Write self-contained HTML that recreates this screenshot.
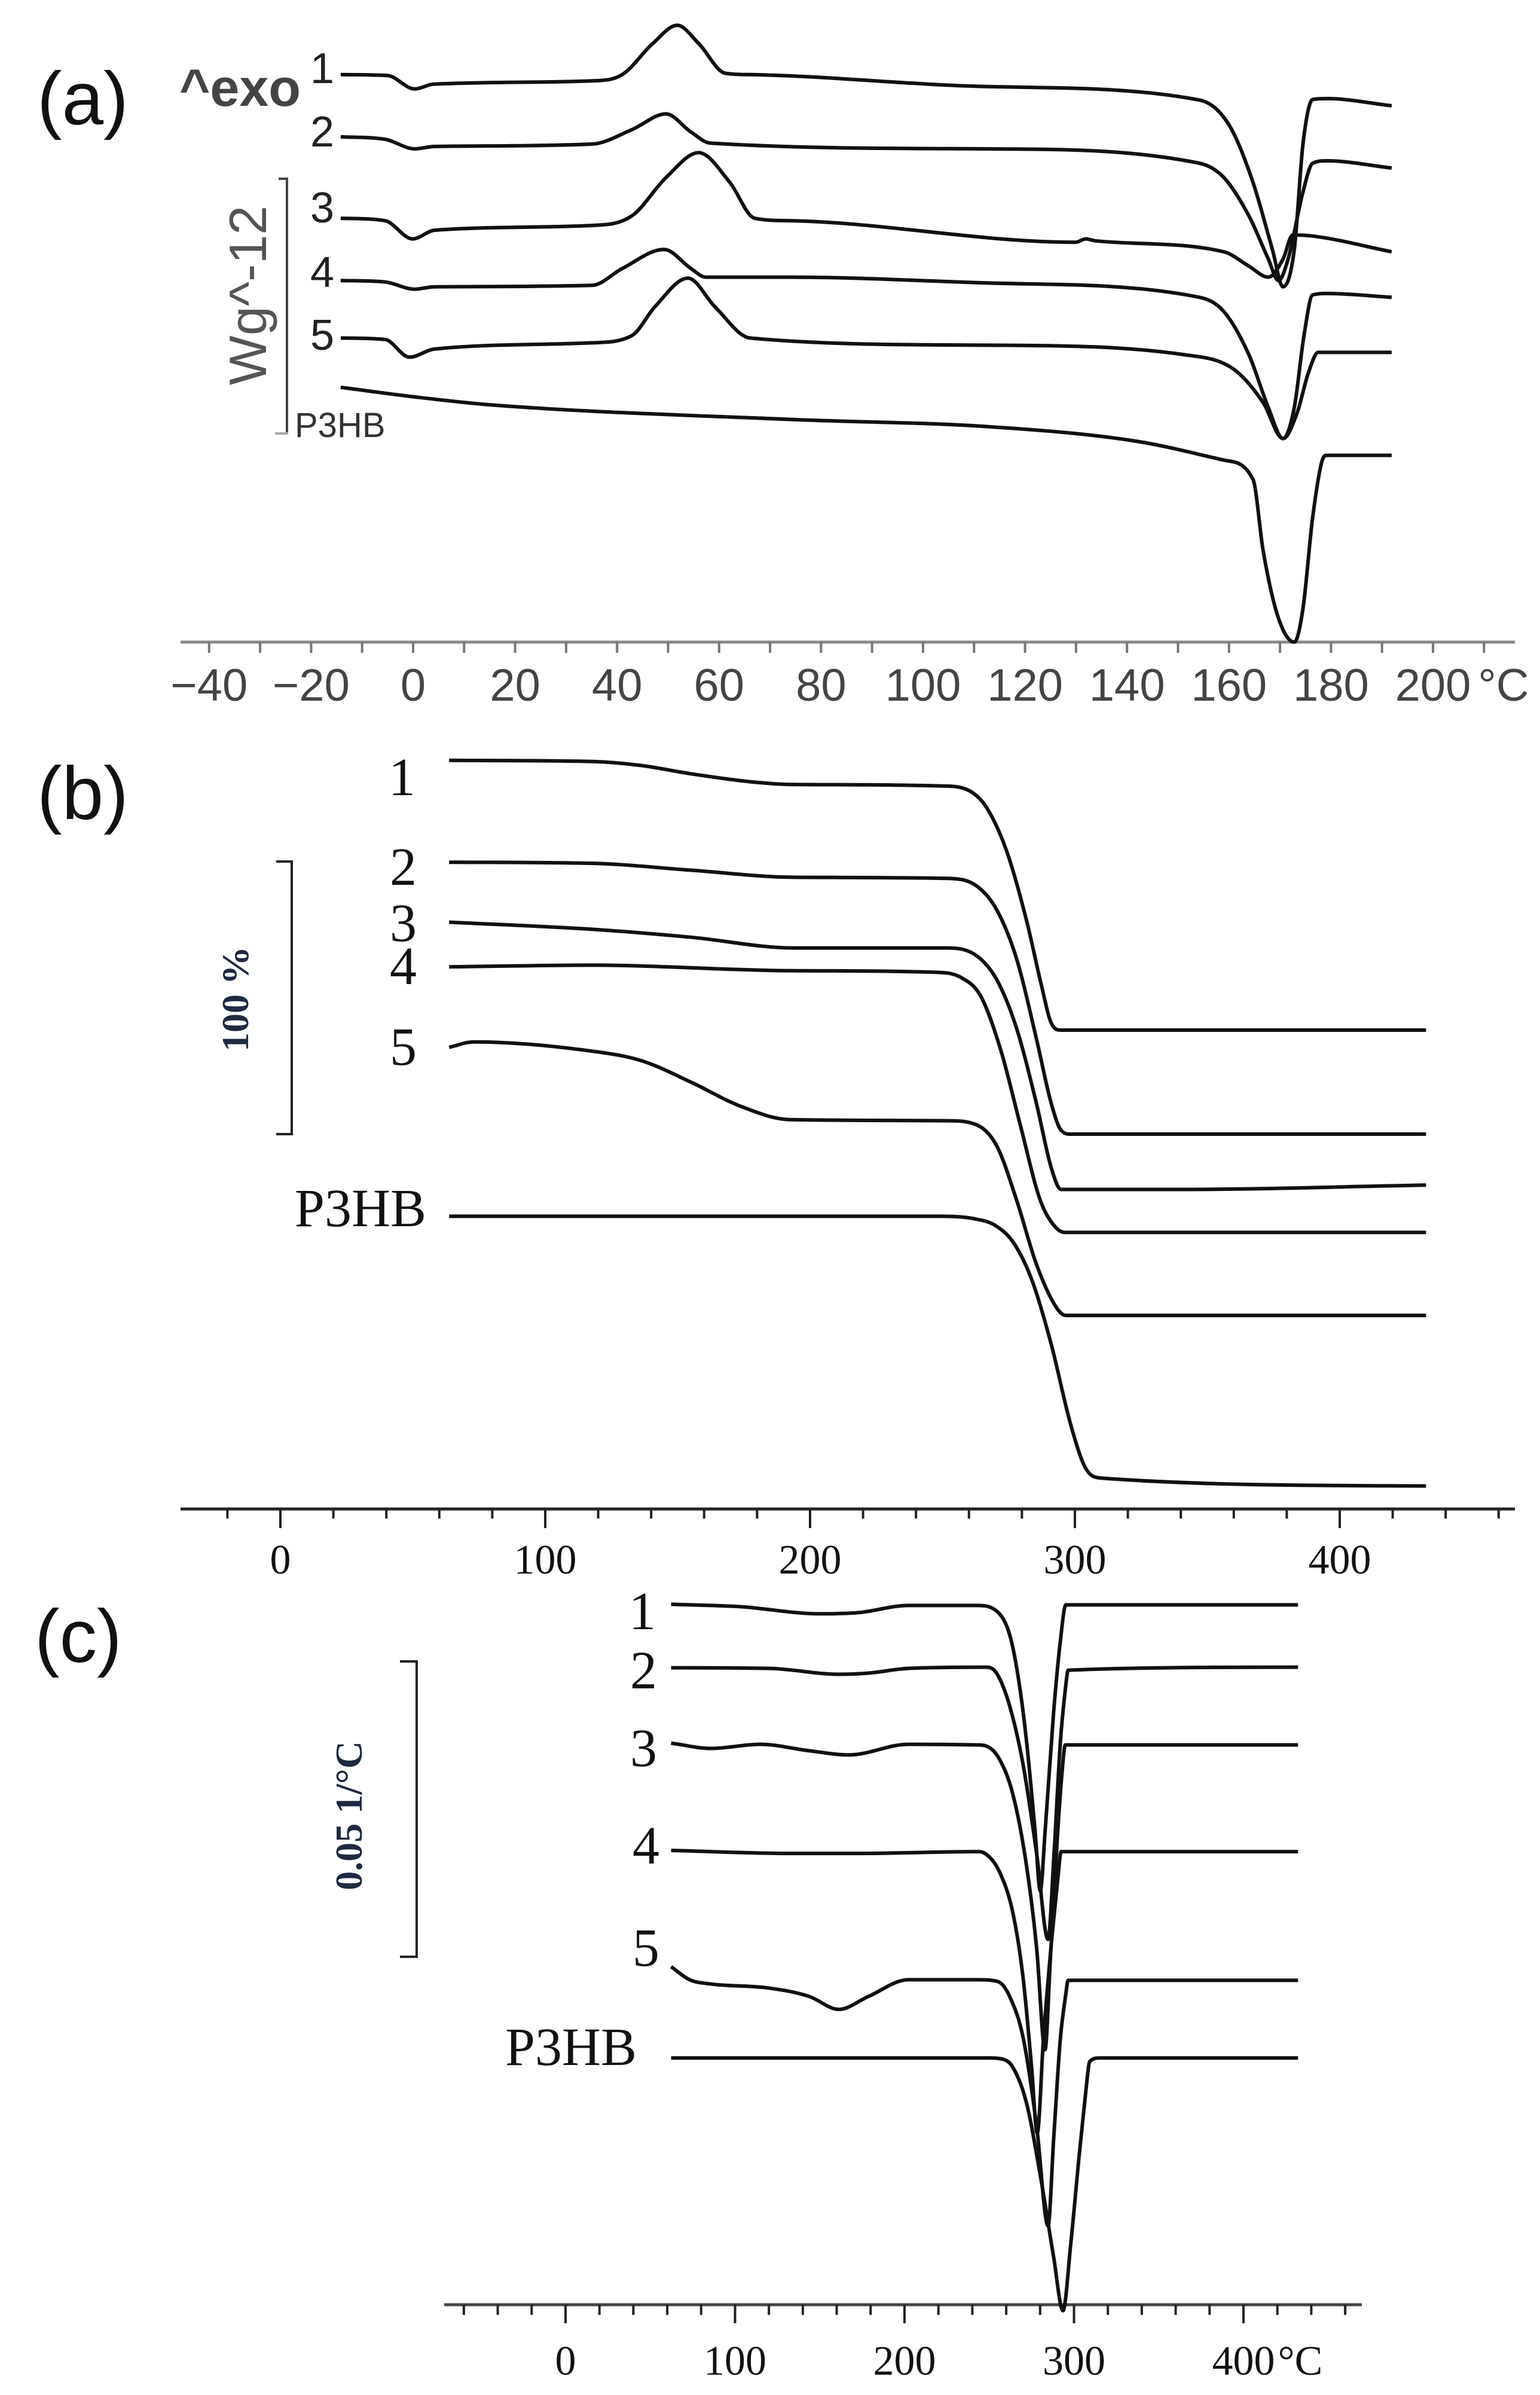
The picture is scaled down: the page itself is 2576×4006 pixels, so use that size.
<!DOCTYPE html>
<html><head><meta charset="utf-8">
<style>
html,body{margin:0;padding:0;background:#fff;}
svg{display:block;}
.sans{font-family:"Liberation Sans",sans-serif;}
.serif{font-family:"Liberation Serif",serif;}
</style></head>
<body>
<svg id="fig" xmlns="http://www.w3.org/2000/svg" width="2576" height="4006" viewBox="0 0 2576 4006">
  <rect x="0" y="0" width="2576" height="4006" fill="#fff"/>
  <g>
    <text class="sans" x="62" y="208" font-size="125" fill="#111">(a)</text>
    <text class="sans" x="300" y="177" font-size="88" font-weight="bold" fill="#444">^exo</text>
    <line x1="480" y1="298" x2="480" y2="726" stroke="#444" stroke-width="4"/>
    <line x1="466" y1="299" x2="482" y2="299" stroke="#444" stroke-width="4"/>
    <line x1="460" y1="725" x2="482" y2="725" stroke="#aaa" stroke-width="4"/>
    <text class="sans" transform="translate(445,494) rotate(-90)" text-anchor="middle" font-size="88" fill="#555">Wg^-12</text>
    <text class="sans" x="519" y="139" font-size="72" fill="#222">1</text>
    <text class="sans" x="519" y="245" font-size="72" fill="#222">2</text>
    <text class="sans" x="519" y="372" font-size="72" fill="#222">3</text>
    <text class="sans" x="519" y="480" font-size="72" fill="#222">4</text>
    <text class="sans" x="519" y="585" font-size="72" fill="#222">5</text>
    <text class="sans" x="493" y="731" font-size="58" fill="#333">P3HB</text>
    <line x1="302" y1="1074" x2="2534" y2="1074" stroke="#888" stroke-width="5"/>
    <g id="ticksA"></g>
    <g id="curvesA"></g>
  </g>
  <g>
    <text class="sans" x="62" y="1370" font-size="125" fill="#111">(b)</text>
    <line x1="488" y1="1440" x2="488" y2="1898" stroke="#222" stroke-width="4"/>
    <line x1="462" y1="1441" x2="490" y2="1441" stroke="#222" stroke-width="4"/>
    <line x1="462" y1="1897" x2="490" y2="1897" stroke="#222" stroke-width="4"/>
    <text class="serif" transform="translate(415,1671) rotate(-90)" text-anchor="middle" font-size="64" font-weight="bold" fill="#1e2a40">100 %</text>
    <text class="serif" x="650" y="1330" font-size="90" fill="#111">1</text>
    <text class="serif" x="652" y="1480" font-size="90" fill="#111">2</text>
    <text class="serif" x="652" y="1574" font-size="90" fill="#111">3</text>
    <text class="serif" x="652" y="1646" font-size="90" fill="#111">4</text>
    <text class="serif" x="652" y="1781" font-size="90" fill="#111">5</text>
    <text class="serif" x="713" y="2051" text-anchor="end" font-size="90" fill="#111">P3HB</text>
    <line x1="302" y1="2524" x2="2534" y2="2524" stroke="#222" stroke-width="5"/>
    <g id="ticksB"></g>
    <g id="curvesB"></g>
  </g>
  <g>
    <text class="sans" x="58" y="2780" font-size="125" fill="#111">(c)</text>
    <line x1="697" y1="2778" x2="697" y2="3274" stroke="#222" stroke-width="4"/>
    <line x1="669" y1="2779" x2="699" y2="2779" stroke="#222" stroke-width="4"/>
    <line x1="669" y1="3273" x2="699" y2="3273" stroke="#222" stroke-width="4"/>
    <text class="serif" transform="translate(605,3037) rotate(-90)" text-anchor="middle" font-size="64" font-weight="bold" fill="#1e2a40">0.05 1/°C</text>
    <text class="serif" x="1052" y="2725" font-size="90" fill="#111">1</text>
    <text class="serif" x="1054" y="2824" font-size="90" fill="#111">2</text>
    <text class="serif" x="1054" y="2954" font-size="90" fill="#111">3</text>
    <text class="serif" x="1058" y="3117" font-size="90" fill="#111">4</text>
    <text class="serif" x="1058" y="3288" font-size="90" fill="#111">5</text>
    <text class="serif" x="1065" y="3454" text-anchor="end" font-size="90" fill="#111">P3HB</text>
    <line x1="743" y1="3855" x2="2278" y2="3855" stroke="#444" stroke-width="5"/>
    <g id="ticksC"></g>
    <g id="curvesC"></g>
  </g>
</svg>
<script>
const aTicks=[-40,-20,0,20,40,60,80,100,120,140,160,180,200];
const aT1=[-14.2,-5,0.3,4,35.1,41,47,51.8,56,61.2,66,112.5,154.2,160,164.7,168.5,170.6,172.8,174.5,176.4,179.2,191.9];
const aV1=[118.5,118.3,115.5,116.5,117.2,118.5,125,128.8,125,118.8,118.5,116,113.2,108,96,82,74.2,82,104,113.3,113.5,112];
const aT2=[-14.2,-5.5,0.3,4.2,35.1,42.9,49.6,54.5,58.3,112.5,154.2,159,163.9,167.7,169.7,171.6,174.5,176.4,179.2,191.9];
const aV2=[105.5,105,103,103.5,104,107,110.3,106.5,104.2,103,100,97,89,80,75.5,80,94,100,100.5,99];
const aT3=[-14.2,-5.5,-0.1,4.2,35.1,42.9,49.6,56,62.1,67,73.8,129.9,131.9,133.8,159,163.9,167.7,170.6,172.5,176.4,191.9];
const aV3=[88.5,88,84.2,86,87,89,97,102.2,96,88.5,88,83.5,84.2,83.8,81.5,78.5,76.2,80,85,84.8,81.5];
const aT4=[-14.2,-5.5,0.3,4.2,35.1,41,49.2,54.5,57.4,73.8,112.5,154.2,159,163.9,167.7,170.6,172.8,174.7,176.4,179.2,191.9];
const aV4=[75.5,75.2,73.7,74.2,74.5,78,82,78,76.2,76.2,75,72,69,60,49,42.5,49,64,72.5,72.8,72];
const aT5=[-14.2,-5.5,-0.7,4.2,35.1,42.9,47.4,53.9,59.2,66.1,112.5,151.3,160.9,166.7,170.6,173.4,175.5,177.5,191.9];
const aV5=[63.5,63.2,59.5,61.2,62.5,64,70,76,70,63.5,62,60,57,50,42.5,48,56,60.5,60.5];
const aTP=[-14.2,0.3,15.7,73.8,112.5,141.5,159,164.7,166.7,169.7,172.8,174.5,176.4,178.3,179.2,191.9];
const aVP=[53.2,51.2,49.5,46.5,45,42,38,34,19,5,0,7,26,38,39,39];

const bTicks=[0,100,200,300,400];
const bT1=[63.7,117.7,136.4,155,177.4,192.3,252,261.2,266.9,274.3,281.8,287.4,291.1,294.8,432.6];
const bV1=[273.4,273,271.5,268.5,265.6,264.6,264,261.7,255.8,240.1,214.7,191.1,177.4,174.9,174.9];
const bT2=[63.7,117.7,155,193.9,252,263.1,270.6,278,285.5,291.1,294.8,298.5,432.6];
const bV2=[236.2,235.8,233.3,230.7,230.3,227.4,218.6,200.9,171.6,148,138.3,136.9,136.9];
const bT3=[63.7,117.7,155,193.9,252,263.1,270.6,278,285.5,291.1,294.8,341.3,432.6];
const bV3=[214.3,211.7,208.8,204.9,204.9,201.9,193.1,175.5,148,124.5,116.7,116.7,118.3];
const bT4=[63.7,117.7,192.3,247.6,257,264.5,272,279.4,286.9,292.6,296.3,341.3,432.6];
const bV4=[198,198.6,196.6,196,194.1,187.2,167.6,140.2,112.8,103,101,101,101];
const bT5=[63.7,73,117.7,136.4,155,173.7,192.3,252,263.1,270.6,278,285.5,293,296.6,432.6];
const bV5=[168.6,170.6,167.2,163.7,155.9,147.1,142.2,141.8,140.2,132.4,112.8,89.3,73.6,70.7,70.7];
const bTP=[63.7,250,262,270,277,284,291.1,298.5,304.1,309.7,432.6];
const bVP=[106.9,106.9,106,103.5,97,83,60,30.5,14.8,11.3,8.4];

const cTicks=[0,100,200,300,400];
const cT1=[62.3,103.1,149.8,173.1,202.2,242.8,255,262,267,272,277,280.1,283,288,292,295.2,432.2];
const cV1=[118.1,117.7,116.5,116.7,117.9,117.9,116.8,113,106,95,80,69.8,80,100,112,118,118];
const cT2=[62.3,120,161.3,178.8,202.2,248,254.3,262,270,278,284.7,288,292,295,296.6,432.2];
const cV2=[107.4,107.3,106.3,106.5,107.3,107.5,106.5,101,91,76,61.6,75,95,104,107,107.5];
const cT3=[62.3,85.8,114.9,144,167.3,202.2,242.8,248.3,256,264,272,278,282.9,286,290,293,294.9,432.2];
const cV3=[94.7,93.8,94.5,93.4,92.7,94.5,94.4,94.2,92,86,74,60,43,58,78,90,94.4,94.4];
const cT4=[62.3,132.5,173.1,242.8,248,256,264,270,275,278.3,282,287,290.5,292.4,432.2];
const cV4=[76.6,76.1,76.1,76.4,76,73,66,55,40,28.9,45,62,72,76.4,76.4];
const cT5=[62.3,73.2,85,120,143.6,161.3,178.8,202.2,242.8,255,262,270,278,284.7,288,292,295,296.6,432.2];
const cV5=[57,54.8,54.1,53.4,52,49.8,52,54.8,54.8,54.5,52,45,30,13.3,28,45,52,54.7,54.7];
const cTP=[62.3,250,258,264,272,280,288,293.5,298,303,307,309.3,315,432.2];
const cVP=[41.6,41.6,41.4,40,34,22,8,-1,10,25,36,41,41.6,41.6];

const xA=t=>691+t*8.53, yA=v=>1074-v*8.01;
const xB=t=>469+t*4.43, yB=v=>2524-v*4.58;
const xC=t=>946+t*2.835, yC=v=>3855-v*9.92;
const NS='http://www.w3.org/2000/svg';

function monoPath(xs,ys){
  const n=xs.length, d=[], m=[];
  for(let i=0;i<n-1;i++){d.push((ys[i+1]-ys[i])/(xs[i+1]-xs[i]));}
  m[0]=d[0]; m[n-1]=d[n-2];
  for(let i=1;i<n-1;i++){ m[i]=(d[i-1]*d[i]<=0)?0:(d[i-1]+d[i])/2; }
  for(let i=0;i<n-1;i++){
    if(d[i]===0){m[i]=0;m[i+1]=0;continue;}
    const a=m[i]/d[i], b=m[i+1]/d[i], s=a*a+b*b;
    if(s>9){const t=3/Math.sqrt(s); m[i]=t*a*d[i]; m[i+1]=t*b*d[i];}
  }
  let p='M'+xs[0].toFixed(1)+','+ys[0].toFixed(1);
  for(let i=0;i<n-1;i++){
    const h=(xs[i+1]-xs[i])/3;
    p+=' C'+(xs[i]+h).toFixed(1)+','+(ys[i]+m[i]*h).toFixed(1)+' '+(xs[i+1]-h).toFixed(1)+','+(ys[i+1]-m[i+1]*h).toFixed(1)+' '+xs[i+1].toFixed(1)+','+ys[i+1].toFixed(1);
  }
  return p;
}
function drawCurve(gid,T,V,xs,ys,name){
  const px=T.map(xs), py=V.map(ys);
  const p=document.createElementNS(NS,'path');
  p.setAttribute('d',monoPath(px,py));
  p.setAttribute('fill','none');
  p.setAttribute('stroke','#111');
  p.setAttribute('stroke-width','6');
  p.setAttribute('stroke-linejoin','round');
  
  
  document.getElementById(gid).appendChild(p);
}
function tick(gid,x,y1,y2,color,w){
  const l=document.createElementNS(NS,'line');
  l.setAttribute('x1',x);l.setAttribute('x2',x);l.setAttribute('y1',y1);l.setAttribute('y2',y2);
  l.setAttribute('stroke',color);l.setAttribute('stroke-width',w);
  
  
  document.getElementById(gid).appendChild(l);
}
function label(gid,x,y,txt,cls,size,color,anchor){
  const t=document.createElementNS(NS,'text');
  t.setAttribute('x',x);t.setAttribute('y',y);
  t.setAttribute('class',cls);t.setAttribute('font-size',size);
  t.setAttribute('fill',color);t.setAttribute('text-anchor',anchor||'middle');
  t.textContent=txt;
  
  
  document.getElementById(gid).appendChild(t);
}

for(let t=-40;t<=210;t+=10){ tick('ticksA',xA(t),1074,1092,'#777',4); }
aTicks.forEach(t=>label('ticksA',xA(t),1172,(t<0?'\u2212'+(-t):String(t)),'sans',76,'#444'));
label('ticksA',2515,1172,'°C','sans',76,'#444');

for(let t=-20;t<=460;t+=20){ const maj=(t%100===0); tick('ticksB',xB(t),2524,maj?2556:2540,'#222',4); }
bTicks.forEach(t=>label('ticksB',xB(t),2632,String(t),'serif',70,'#111'));

for(let t=-60;t<=460;t+=20){ const maj=(t%100===0); tick('ticksC',xC(t),3855,maj?3886:3872,'#222',4); }
cTicks.forEach(t=>label('ticksC',xC(t),3972,String(t),'serif',70,'#111'));
label('ticksC',xC(400)+95,3972,'°C','serif',70,'#111','middle');

drawCurve('curvesA',aT1,aV1,xA,yA,'dsc-curve-1');
drawCurve('curvesA',aT2,aV2,xA,yA,'dsc-curve-2');
drawCurve('curvesA',aT3,aV3,xA,yA,'dsc-curve-3');
drawCurve('curvesA',aT4,aV4,xA,yA,'dsc-curve-4');
drawCurve('curvesA',aT5,aV5,xA,yA,'dsc-curve-5');
drawCurve('curvesA',aTP,aVP,xA,yA,'dsc-curve-p3hb');

drawCurve('curvesB',bT1,bV1,xB,yB,'tga-curve-1');
drawCurve('curvesB',bT2,bV2,xB,yB,'tga-curve-2');
drawCurve('curvesB',bT3,bV3,xB,yB,'tga-curve-3');
drawCurve('curvesB',bT4,bV4,xB,yB,'tga-curve-4');
drawCurve('curvesB',bT5,bV5,xB,yB,'tga-curve-5');
drawCurve('curvesB',bTP,bVP,xB,yB,'tga-curve-p3hb');

drawCurve('curvesC',cT1,cV1,xC,yC,'dtg-curve-1');
drawCurve('curvesC',cT2,cV2,xC,yC,'dtg-curve-2');
drawCurve('curvesC',cT3,cV3,xC,yC,'dtg-curve-3');
drawCurve('curvesC',cT4,cV4,xC,yC,'dtg-curve-4');
drawCurve('curvesC',cT5,cV5,xC,yC,'dtg-curve-5');
drawCurve('curvesC',cTP,cVP,xC,yC,'dtg-curve-p3hb');
</script>
</body></html>
